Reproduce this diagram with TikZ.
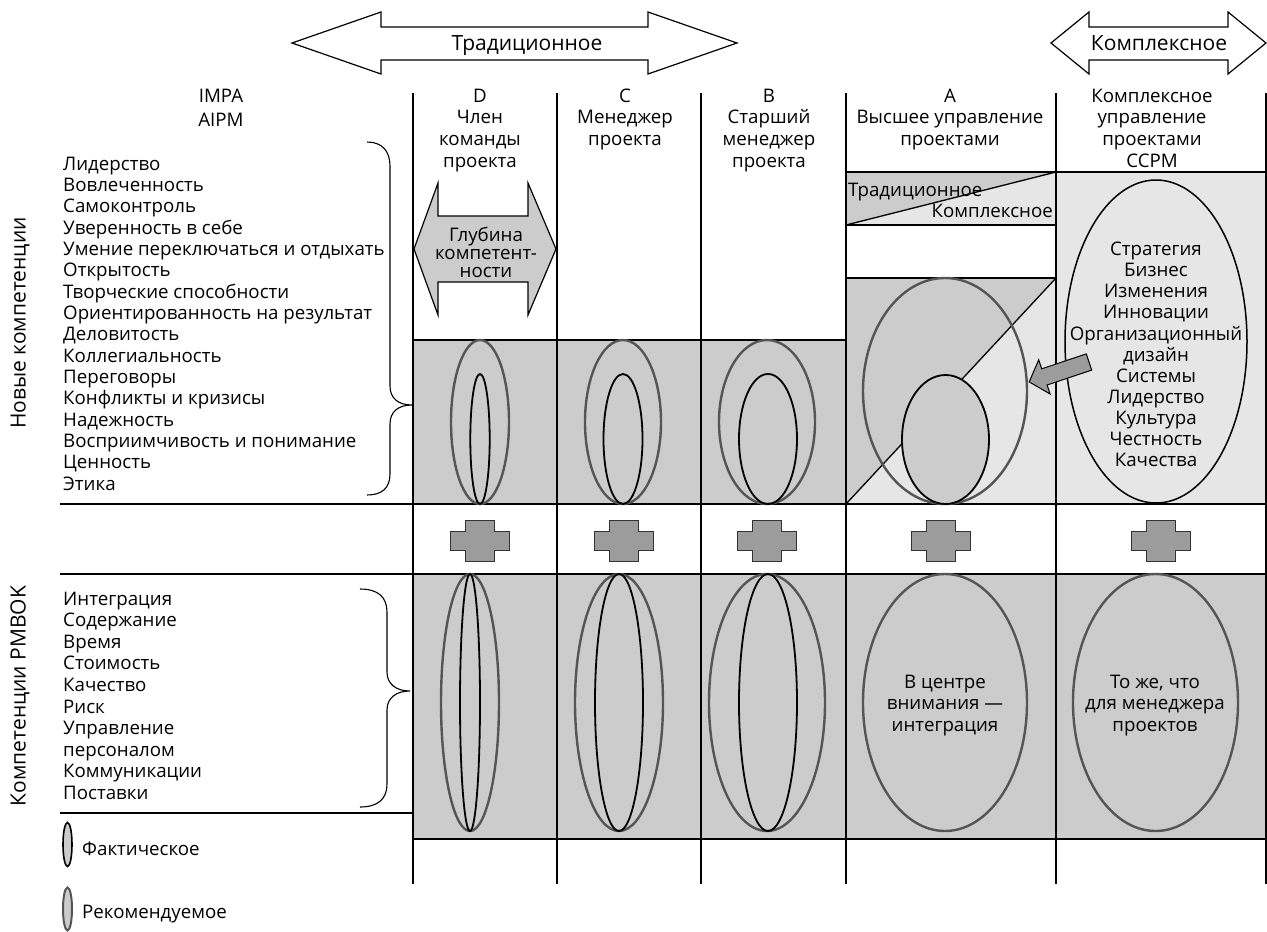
\documentclass[tikz,border=0pt]{standalone}
\usepackage{fontspec}
\setmainfont{Open Sans}
\definecolor{gdark}{HTML}{CCCCCC}
\definecolor{glight}{HTML}{E6E6E6}
\definecolor{gline}{HTML}{555555}
\definecolor{gplus}{HTML}{9C9C9C}
\tikzset{
  txt/.style={font=\fontsize{18.7}{21}\selectfont, inner sep=0pt, text=black},
  txtbig/.style={font=\fontsize{21}{23}\selectfont, inner sep=0pt, text=black},
  rec/.style={draw=gline, line width=2.4pt},
  act/.style={draw=black, line width=1.8pt},
  gridmajor/.style={draw=black, line width=2pt},
  gridminor/.style={draw=black, line width=1.3pt},
  bracestyle/.style={draw=black, line width=1.1pt},
  bigarrow/.style={draw=black, line width=1.2pt, line join=miter},
  plussign/.pic={
    \draw[fill=gplus, draw=black!80, line width=1pt]
      (-29.5,-9.5) -- (-14.5,-9.5) -- (-14.5,-20.5) -- (14.5,-20.5) -- (14.5,-9.5) -- (29.5,-9.5)
      -- (29.5,9.5) -- (14.5,9.5) -- (14.5,20.5) -- (-14.5,20.5) -- (-14.5,9.5) -- (-29.5,9.5) -- cycle;
  }
}
\begin{document}
\begin{tikzpicture}[x=1pt,y=-1pt]
\useasboundingbox (0,0) rectangle (1267,932);

% ---------- fills ----------
\fill[gdark] (413,340) rectangle (846,504);
\fill[gdark] (846,278) -- (1056,278) -- (846,504) -- cycle;
\fill[glight] (1056,278) -- (1056,504) -- (846,504) -- cycle;
\fill[gdark] (846,172) -- (1056,172) -- (846,225) -- cycle;
\fill[glight] (1056,172) -- (1056,225) -- (846,225) -- cycle;
\fill[glight] (1056,172) rectangle (1266,504);
\fill[gdark] (413,574) rectangle (1266,839);

% ---------- grid ----------
\foreach \x in {413,846,1266} \draw[gridmajor] (\x,93) -- (\x,884);
\foreach \x in {557,701,1056} \draw[gridminor] (\x,93) -- (\x,884);
\draw[gridmajor] (846,172) -- (1266,172);
\draw[gridmajor] (846,225) -- (1056,225);
\draw[gridmajor] (846,278) -- (1056,278);
\draw[gridminor] (413,340) -- (846,340);
\draw[line width=2.4pt] (60,504) -- (1266,504);
\draw[line width=2.4pt] (60,574) -- (1266,574);
\draw[gridmajor] (60,813) -- (413,813);
\draw[gridmajor] (413,839) -- (1266,839);
\draw[gridminor] (846,225) -- (1056,172);
\draw[gridminor] (846,504) -- (1056,278);

% ---------- top arrows ----------
\draw[bigarrow, fill=white] (292,43) -- (381,12) -- (381,27) -- (648,27) -- (648,12) -- (737,43)
  -- (648,74) -- (648,60) -- (381,60) -- (381,74) -- cycle;
\node[txtbig, anchor=base] (trad) at (527,50) {Традиционное};
\draw[bigarrow, fill=white] (1051,43) -- (1089,12) -- (1089,27) -- (1228,27) -- (1228,12) -- (1266,43)
  -- (1228,74) -- (1228,60) -- (1089,60) -- (1089,74) -- cycle;
\node[txtbig, anchor=base] (kompl) at (1159,50) {Комплексное};

% ---------- headers ----------
\foreach \t [count=\i from 0] in {IMPA,AIPM} \node[txt, anchor=base] (hI\i) at (221,102+24.5*\i) {\t};
\foreach \t [count=\i from 0] in {D,Член,команды,проекта} \node[txt, anchor=base] (hD\i) at (480,102+21.8*\i) {\t};
\foreach \t [count=\i from 0] in {C,Менеджер,проекта} \node[txt, anchor=base] (hC\i) at (625,102+21.8*\i) {\t};
\foreach \t [count=\i from 0] in {B,Старший,менеджер,проекта} \node[txt, anchor=base] (hB\i) at (769,102+21.8*\i) {\t};
\foreach \t [count=\i from 0] in {A,Высшее управление,проектами} \node[txt, anchor=base] (hA\i) at (950,102+21.8*\i) {\t};
\foreach \t [count=\i from 0] in {Комплексное,управление,проектами,CCPM} \node[txt, anchor=base] (hP\i) at (1152,102+21.8*\i) {\t};

% ---------- left lists ----------
\foreach \t [count=\i from 0] in {Лидерство,Вовлеченность,Самоконтроль,Уверенность в себе,Умение переключаться и отдыхать,Открытость,Творческие способности,Ориентированность на результат,Деловитость,Коллегиальность,Переговоры,Конфликты и кризисы,Надежность,Восприимчивость и понимание,Ценность,Этика}
  \node[txt, anchor=base west] (nc\i) at (63,170+21.35*\i) {\t};
\foreach \t [count=\i from 0] in {Интеграция,Содержание,Время,Стоимость,Качество,Риск,Управление,персоналом,Коммуникации,Поставки}
  \node[txt, anchor=base west] (pm\i) at (63,605+21.6*\i) {\t};
\node[txtbig, rotate=90] (lblNew) at (20,323) {Новые компетенции};
\node[txtbig, rotate=90] (lblPM) at (20,696) {Компетенции PMBOK};

% braces
\draw[bracestyle] (367,142) .. controls (382,142) and (390,151) .. (390,166) -- (390,386)
  .. controls (390,398) and (398,405) .. (412,405) .. controls (398,405) and (390,412) .. (390,424)
  -- (390,474) .. controls (390,488) and (382,495) .. (367,495);
\draw[bracestyle] (360,589) .. controls (378,589) and (387,597) .. (387,612) -- (387,672)
  .. controls (387,684) and (396,691) .. (410,691) .. controls (396,691) and (387,698) .. (387,710)
  -- (387,784) .. controls (387,799) and (378,807) .. (360,807);

% ---------- depth arrow ----------
\draw[bigarrow, fill=gdark] (414,249) -- (438,183) -- (438,216) -- (528,216) -- (528,183) -- (556,249)
  -- (528,315) -- (528,282) -- (438,282) -- (438,315) -- cycle;
\foreach \t [count=\i from 0] in {Глубина,компетент-,ности} \node[txt, anchor=base] (dp\i) at (486,241+18*\i) {\t};

% ---------- A box labels ----------
\node[txt, anchor=base west] (aTrad) at (848,196) {Традиционное};
\node[txt, anchor=base east] (aKompl) at (1053,217) {Комплексное};

% ---------- ellipses upper row ----------
\draw[rec] (480,422) ellipse [x radius=29pt, y radius=82pt];
\draw[act] (480,439) ellipse [x radius=9.7pt, y radius=65pt];
\draw[rec] (623,422) ellipse [x radius=38pt, y radius=82pt];
\draw[act] (623,439) ellipse [x radius=19.5pt, y radius=65pt];
\draw[rec] (767,422) ellipse [x radius=48pt, y radius=82pt];
\draw[act] (768,439) ellipse [x radius=29pt, y radius=65pt];
\draw[rec] (945,391) ellipse [x radius=82pt, y radius=113pt];
\draw[act, fill=gdark] (945.5,439.5) ellipse [x radius=43.5pt, y radius=64.5pt];
\draw[draw=black, line width=1.5pt, fill=glight] (1156,341.5) ellipse [x radius=91pt, y radius=161.5pt];
\foreach \t [count=\i from 0] in {Стратегия,Бизнес,Изменения,Инновации,Организационный,дизайн,Системы,Лидерство,Культура,Честность,Качества}
  \node[txt, anchor=base] (cc\i) at (1156,255.6+21.1*\i) {\t};

% pointer arrow
\draw[draw=black, line width=1pt, fill=gplus] (1086.3,353.9) -- (1041.7,368.8) -- (1038.7,359.8) -- (1029.2,381.9)
  -- (1050.1,394) -- (1047.1,385) -- (1091.7,370.1) -- cycle;

% ---------- plus signs ----------
\foreach \x in {479.5,623.8,767.4,940.6,1160.9} \pic at (\x,541) {plussign};

% ---------- ellipses lower row ----------
\draw[rec] (470,702.5) ellipse [x radius=29pt, y radius=128.5pt];
\draw[act] (470,702.5) ellipse [x radius=10pt, y radius=128.5pt];
\draw[rec] (619,702.5) ellipse [x radius=44pt, y radius=128.5pt];
\draw[act] (619,702.5) ellipse [x radius=24pt, y radius=128.5pt];
\draw[rec] (767,702.5) ellipse [x radius=58pt, y radius=128.5pt];
\draw[act] (768,702.5) ellipse [x radius=29pt, y radius=128.5pt];
\draw[rec] (945,702.5) ellipse [x radius=82pt, y radius=128.5pt];
\draw[rec] (1155.5,702.5) ellipse [x radius=82.5pt, y radius=128.5pt];
\foreach \t [count=\i from 0] in {В центре,внимания —,интеграция} \node[txt, anchor=base] (ca\i) at (945,688+21.5*\i) {\t};
\foreach \t [count=\i from 0] in {{То же, что},для менеджера,проектов} \node[txt, anchor=base] (cp\i) at (1155,688+21.5*\i) {\t};

% ---------- legend ----------
\draw[draw=black, line width=1.6pt, fill=gdark] (67.5,844.5) ellipse [x radius=4.5pt, y radius=22pt];
\node[txt, anchor=base west] (lg1) at (82,855) {Фактическое};
\draw[draw=gline, line width=2pt, fill=gdark] (67.5,909) ellipse [x radius=4.5pt, y radius=21.5pt];
\node[txt, anchor=base west] (lg2) at (82,918) {Рекомендуемое};
\end{tikzpicture}
\end{document}
